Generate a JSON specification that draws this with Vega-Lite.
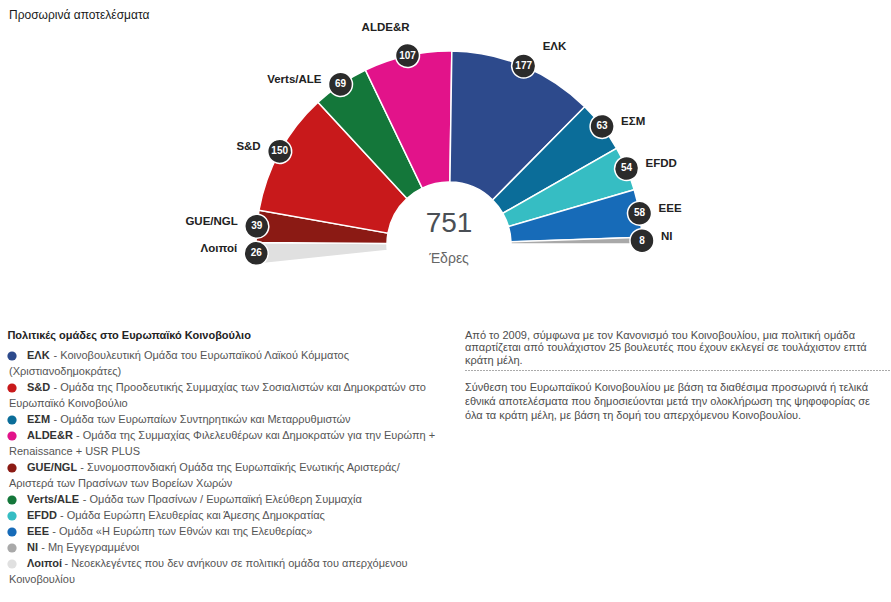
{
  "$schema": "https://vega.github.io/schema/vega-lite/v6.json",
  "background": "white",
  "padding": {"left": 7, "top": 8, "right": 3, "bottom": 3},
  "config": {"view": {"stroke": null}, "font": "Liberation Sans"},
  "datasets": {
    "seats": [
      {"party": "Λοιποί", "seats": 26, "order": 1},
      {"party": "GUE/NGL", "seats": 39, "order": 2},
      {"party": "S&D", "seats": 150, "order": 3},
      {"party": "Verts/ALE", "seats": 69, "order": 4},
      {"party": "ALDE&R", "seats": 107, "order": 5},
      {"party": "ΕΛΚ", "seats": 177, "order": 6},
      {"party": "ΕΣΜ", "seats": 63, "order": 7},
      {"party": "EFDD", "seats": 54, "order": 8},
      {"party": "ΕΕΕ", "seats": 58, "order": 9},
      {"party": "NI", "seats": 8, "order": 10}
    ],
    "legend": [
      {"party": "ΕΛΚ", "text": "- Κοινοβουλευτική Ομάδα του Ευρωπαϊκού Λαϊκού Κόμματος"},
      {"party": "", "text": "(Χριστιανοδημοκράτες)"},
      {"party": "S&D", "text": "- Ομάδα της Προοδευτικής Συμμαχίας των Σοσιαλιστών και Δημοκρατών στο"},
      {"party": "", "text": "Ευρωπαϊκό Κοινοβούλιο"},
      {"party": "ΕΣΜ", "text": "- Ομάδα των Ευρωπαίων Συντηρητικών και Μεταρρυθμιστών"},
      {"party": "ALDE&R", "text": "- Ομάδα της Συμμαχίας Φιλελευθέρων και Δημοκρατών για την Ευρώπη +"},
      {"party": "", "text": "Renaissance + USR PLUS"},
      {"party": "GUE/NGL", "text": "- Συνομοσπονδιακή Ομάδα της Ευρωπαϊκής Ενωτικής Αριστεράς/"},
      {"party": "", "text": "Αριστερά των Πρασίνων των Βορείων Χωρών"},
      {"party": "Verts/ALE", "text": "- Ομάδα των Πρασίνων / Ευρωπαϊκή Ελεύθερη Συμμαχία"},
      {"party": "EFDD", "text": "- Ομάδα Ευρώπη Ελευθερίας και Άμεσης Δημοκρατίας"},
      {"party": "ΕΕΕ", "text": "- Ομάδα «Η Ευρώπη των Εθνών και της Ελευθερίας»"},
      {"party": "NI", "text": "- Μη Εγγεγραμμένοι"},
      {"party": "Λοιποί", "text": "- Νεοεκλεγέντες που δεν ανήκουν σε πολιτική ομάδα του απερχόμενου"},
      {"party": "", "text": "Κοινοβουλίου"}
    ],
    "notes": [
      {"p": 1, "text": "Από το 2009, σύμφωνα με τον Κανονισμό του Κοινοβουλίου, μια πολιτική ομάδα\nαπαρτίζεται από τουλάχιστον 25 βουλευτές που έχουν εκλεγεί σε τουλάχιστον επτά\nκράτη μέλη."},
      {"p": 2, "text": "Σύνθεση του Ευρωπαϊκού Κοινοβουλίου με βάση τα διαθέσιμα προσωρινά ή τελικά\nεθνικά αποτελέσματα που δημοσιεύονται μετά την ολοκλήρωση της ψηφοφορίας σε\nόλα τα κράτη μέλη, με βάση τη δομή του απερχόμενου Κοινοβουλίου."}
    ]
  },
  "title": {"text": "Προσωρινά αποτελέσματα", "anchor": "start", "frame": "group", "offset": 0, "fontSize": 12, "fontWeight": "normal", "color": "#1a1a1a", "font": "Liberation Sans"},
  "bounds": "flush",
  "spacing": 104,
  "vconcat": [
    {
      "width": 880,
      "height": 222,
      "data": {"name": "seats"},
      "layer": [
        {
          "mark": {"type": "arc", "radius": 193, "radius2": 62, "stroke": "white", "strokeWidth": 1.5, "y": "height"},
          "encoding": {
            "theta": {"field": "seats", "type": "quantitative", "stack": true, "scale": {"range": [-1.6755, 1.5708], "nice": false, "zero": true}},
            "order": {"field": "order", "type": "quantitative"},
            "color": {"field": "party", "type": "nominal", "legend": null,
              "scale": {"domain": ["Λοιποί", "GUE/NGL", "S&D", "Verts/ALE", "ALDE&R", "ΕΛΚ", "ΕΣΜ", "EFDD", "ΕΕΕ", "NI"],
                        "range": ["#e0e0e0", "#8b1a14", "#c8191b", "#14773a", "#e2138a", "#2d4a8c", "#0b6d99", "#36bdc3", "#176bb8", "#a9a9a9"]}}
          }
        },
        {
          "transform": [
            {"stack": "seats", "groupby": [], "sort": [{"field": "order", "order": "ascending"}], "as": ["s0", "s1"]},
            {"fold": ["s0", "s1"], "as": ["edge", "pos"]},
            {"aggregate": [{"op": "mean", "field": "pos", "as": "mid"}], "groupby": ["party"]}
          ],
          "mark": {"type": "point", "shape": "M -12,-193 A 12,12 0 1,0 12,-193 A 12,12 0 1,0 -12,-193 Z", "size": 4, "filled": true, "fill": "#2b2b2b", "stroke": "white", "strokeWidth": 1.5, "opacity": 1, "y": "height"},
          "encoding": {
            "angle": {"field": "mid", "type": "quantitative", "scale": {"domain": [0, 751], "range": [-96, 90], "nice": false, "zero": false}}
          }
        },
        {
          "mark": {"type": "text", "radius": 193, "y": "height", "fill": "white", "fontSize": 10, "fontWeight": "bold", "font": "Liberation Sans", "align": "center", "baseline": "middle"},
          "encoding": {
            "theta": {"field": "seats", "type": "quantitative", "stack": true, "scale": {"range": [-1.6755, 1.5708], "nice": false, "zero": true}},
            "order": {"field": "order", "type": "quantitative"},
            "text": {"field": "seats", "type": "quantitative"}
          }
        },
        {
          "mark": {"type": "text", "radius": 193, "y": "height", "dx": -19, "dy": -4, "align": "right", "baseline": "middle", "fill": "#222", "fontSize": 11.5, "fontWeight": "bold", "font": "Liberation Sans"},
          "encoding": {
            "theta": {"field": "seats", "type": "quantitative", "stack": true, "scale": {"range": [-1.6755, 1.5708], "nice": false, "zero": true}},
            "order": {"field": "order", "type": "quantitative"},
            "text": {"condition": {"test": "datum.order <= 4", "field": "party"}, "value": ""}
          }
        },
        {
          "mark": {"type": "text", "radius": 193, "y": "height", "dx": 2, "dy": -28, "align": "right", "baseline": "middle", "fill": "#222", "fontSize": 11.5, "fontWeight": "bold", "font": "Liberation Sans"},
          "encoding": {
            "theta": {"field": "seats", "type": "quantitative", "stack": true, "scale": {"range": [-1.6755, 1.5708], "nice": false, "zero": true}},
            "order": {"field": "order", "type": "quantitative"},
            "text": {"condition": {"test": "datum.order == 5", "field": "party"}, "value": ""}
          }
        },
        {
          "mark": {"type": "text", "radius": 193, "y": "height", "dx": 19, "dy": -19, "align": "left", "baseline": "middle", "fill": "#222", "fontSize": 11.5, "fontWeight": "bold", "font": "Liberation Sans"},
          "encoding": {
            "theta": {"field": "seats", "type": "quantitative", "stack": true, "scale": {"range": [-1.6755, 1.5708], "nice": false, "zero": true}},
            "order": {"field": "order", "type": "quantitative"},
            "text": {"condition": {"test": "datum.order == 6", "field": "party"}, "value": ""}
          }
        },
        {
          "mark": {"type": "text", "radius": 193, "y": "height", "dx": 19, "dy": -4, "align": "left", "baseline": "middle", "fill": "#222", "fontSize": 11.5, "fontWeight": "bold", "font": "Liberation Sans"},
          "encoding": {
            "theta": {"field": "seats", "type": "quantitative", "stack": true, "scale": {"range": [-1.6755, 1.5708], "nice": false, "zero": true}},
            "order": {"field": "order", "type": "quantitative"},
            "text": {"condition": {"test": "datum.order >= 7", "field": "party"}, "value": ""}
          }
        },
        {
          "transform": [{"aggregate": [{"op": "sum", "field": "seats", "as": "total"}]}],
          "mark": {"type": "text", "y": "height", "dy": -12, "align": "center", "baseline": "alphabetic", "fontSize": 28, "fill": "#4a4f55", "font": "Liberation Sans"},
          "encoding": {"text": {"field": "total", "type": "quantitative"}}
        },
        {
          "transform": [{"aggregate": [{"op": "sum", "field": "seats", "as": "total"}]}],
          "mark": {"type": "text", "text": "Έδρες", "y": "height", "dy": 19, "align": "center", "baseline": "alphabetic", "fontSize": 14, "fill": "#666", "font": "Liberation Sans"},
          "encoding": {}
        }
      ]
    },
    {
      "bounds": "flush",
      "spacing": 450,
      "hconcat": [
        {
          "width": 6,
          "height": 240,
          "data": {"name": "legend"},
          "title": {"text": "Πολιτικές ομάδες στο Ευρωπαϊκό Κοινοβούλιο", "anchor": "start", "fontSize": 11, "fontWeight": "bold", "color": "#222", "offset": 7, "font": "Liberation Sans"},
          "encoding": {"y": {"field": "text", "type": "nominal", "sort": null, "axis": null}},
          "layer": [
            {
              "mark": {"type": "point", "filled": true, "opacity": 1, "strokeWidth": 0},
              "encoding": {
                "color": {"field": "party", "type": "nominal", "legend": null,
                  "scale": {"domain": ["Λοιποί", "GUE/NGL", "S&D", "Verts/ALE", "ALDE&R", "ΕΛΚ", "ΕΣΜ", "EFDD", "ΕΕΕ", "NI"],
                            "range": ["#e0e0e0", "#8b1a14", "#c8191b", "#14773a", "#e2138a", "#2d4a8c", "#0b6d99", "#36bdc3", "#176bb8", "#a9a9a9"]}},
                "size": {"condition": {"test": "datum.party === ''", "value": 0}, "value": 85}
              }
            },
            {
              "mark": {"type": "text", "align": "left", "baseline": "middle", "dx": 15, "fontSize": 11, "fontWeight": "bold", "fill": "#333", "font": "Liberation Sans"},
              "encoding": {"text": {"field": "party"}}
            },
            {
              "mark": {"type": "text", "align": "left", "baseline": "middle", "dx": -3, "fontSize": 11, "fill": "#555", "font": "Liberation Sans"},
              "encoding": {"text": {"condition": {"test": "datum.party === ''", "field": "text"}, "value": ""}}
            },
            {
              "mark": {"type": "text", "align": "left", "baseline": "middle", "dx": 41.5, "fontSize": 11, "fill": "#555", "font": "Liberation Sans"},
              "encoding": {"text": {"condition": {"test": "indexof(['ΕΛΚ', 'S&D', 'ΕΣΜ'], datum.party) >= 0", "field": "text"}, "value": ""}}
            },
            {
              "mark": {"type": "text", "align": "left", "baseline": "middle", "dx": 40.3, "fontSize": 11, "fill": "#555", "font": "Liberation Sans"},
              "encoding": {"text": {"condition": {"test": "datum.party === 'ΕΕΕ'", "field": "text"}, "value": ""}}
            },
            {
              "mark": {"type": "text", "align": "left", "baseline": "middle", "dx": 64, "fontSize": 11, "fill": "#555", "font": "Liberation Sans"},
              "encoding": {"text": {"condition": {"test": "datum.party === 'ALDE&R'", "field": "text"}, "value": ""}}
            },
            {
              "mark": {"type": "text", "align": "left", "baseline": "middle", "dx": 68.3, "fontSize": 11, "fill": "#555", "font": "Liberation Sans"},
              "encoding": {"text": {"condition": {"test": "datum.party === 'GUE/NGL'", "field": "text"}, "value": ""}}
            },
            {
              "mark": {"type": "text", "align": "left", "baseline": "middle", "dx": 70.8, "fontSize": 11, "fill": "#555", "font": "Liberation Sans"},
              "encoding": {"text": {"condition": {"test": "datum.party === 'Verts/ALE'", "field": "text"}, "value": ""}}
            },
            {
              "mark": {"type": "text", "align": "left", "baseline": "middle", "dx": 48, "fontSize": 11, "fill": "#555", "font": "Liberation Sans"},
              "encoding": {"text": {"condition": {"test": "datum.party === 'EFDD'", "field": "text"}, "value": ""}}
            },
            {
              "mark": {"type": "text", "align": "left", "baseline": "middle", "dx": 29.2, "fontSize": 11, "fill": "#555", "font": "Liberation Sans"},
              "encoding": {"text": {"condition": {"test": "datum.party === 'NI'", "field": "text"}, "value": ""}}
            },
            {
              "mark": {"type": "text", "align": "left", "baseline": "middle", "dx": 52.5, "fontSize": 11, "fill": "#555", "font": "Liberation Sans"},
              "encoding": {"text": {"condition": {"test": "datum.party === 'Λοιποί'", "field": "text"}, "value": ""}}
            }
          ]
        },
        {
          "width": 425,
          "height": 22,
          "data": {"name": "notes"},
          "encoding": {
            "x": {"datum": 0, "type": "quantitative", "scale": {"domain": [0, 1], "nice": false},
                  "axis": {"orient": "bottom", "domain": true, "domainDash": [1, 2], "domainColor": "#555", "domainWidth": 1, "ticks": false, "labels": false, "grid": false, "title": null}}
          },
          "layer": [
            {
              "transform": [{"filter": "datum.p == 1"}],
              "mark": {"type": "text", "align": "left", "baseline": "alphabetic", "dy": -20.5, "lineBreak": "\n", "lineHeight": 12.5, "fontSize": 11, "fill": "#4d4d4d", "font": "Liberation Sans"},
              "encoding": {"text": {"field": "text"}}
            },
            {
              "transform": [{"filter": "datum.p == 2"}],
              "mark": {"type": "text", "align": "left", "baseline": "alphabetic", "dy": 31.5, "lineBreak": "\n", "lineHeight": 14.3, "fontSize": 11, "fill": "#4d4d4d", "font": "Liberation Sans"},
              "encoding": {"text": {"field": "text"}}
            }
          ]
        }
      ]
    }
  ]
}
